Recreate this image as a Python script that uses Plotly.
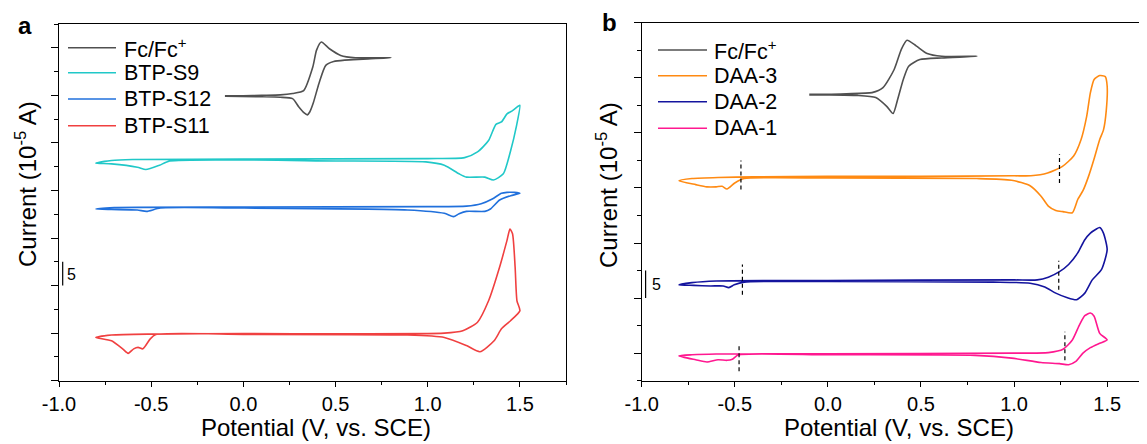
import plotly.graph_objects as go

# ---------------- Panel a data ----------------
fc_a_v = [-0.1, 0.0, 0.1, 0.2, 0.267, 0.327, 0.377, 0.397, 0.423, 0.467, 0.528, 0.608, 0.8,
          0.65, 0.55, 0.49, 0.447, 0.41, 0.38, 0.36, 0.347, 0.33, 0.30, 0.267, 0.2, 0.1, -0.1]
fc_a_i = [59.9, 59.9, 60.0, 60.1, 60.4, 61.0, 66.0, 69.5, 71.2, 69.8, 68.4, 67.9, 67.9,
          67.6, 67.4, 67.1, 66.3, 62.5, 58.5, 56.5, 55.9, 56.3, 57.6, 59.3, 59.6, 59.7, 59.8]

s9_v = [-0.8, -0.715, -0.6, 0.0, 1.0, 1.2, 1.27, 1.33, 1.37, 1.40, 1.43, 1.46, 1.49, 1.5,
        1.48, 1.45, 1.41, 1.356, 1.31, 1.21, 1.17, 1.09, 0.99, 0.5, -0.4, -0.455, -0.529, -0.575, -0.715, -0.8]
s9_i = [45.75, 46.3, 46.5, 46.6, 46.7, 46.9, 48.1, 50.5, 53.9, 54.4, 56.1, 56.8, 57.7, 57.9,
        53.3, 48.4, 43.5, 42.2, 42.8, 42.8, 43.5, 45.3, 46.0, 46.2, 46.2, 45.3, 44.4, 44.9, 45.6, 45.75]

s12_v = [-0.8, -0.7, 0.0, 1.0, 1.21, 1.29, 1.35, 1.40, 1.43, 1.47, 1.5,
         1.45, 1.39, 1.34, 1.31, 1.21, 1.17, 1.14, 1.09, 0.89, 0.0, -0.45, -0.525, -0.575, -0.715, -0.8]
s12_i = [36.1, 36.4, 36.5, 36.6, 36.7, 37.2, 38.2, 39.4, 39.6, 39.6, 39.4,
         38.9, 38.0, 36.1, 35.6, 35.6, 35.1, 34.5, 35.2, 35.9, 36.3, 36.3, 35.6, 35.9, 36.0, 36.1]

s11_v = [-0.8, -0.715, -0.5, 0.0, 1.09, 1.19, 1.27, 1.33, 1.39, 1.43, 1.446, 1.46, 1.474, 1.484, 1.5,
         1.449, 1.40, 1.36, 1.283, 1.21, 1.09, 0.89, 0.0, -0.475, -0.505, -0.545, -0.571, -0.595,
         -0.625, -0.655, -0.715, -0.8]
s11_i = [9.1, 9.6, 9.8, 9.9, 10.0, 10.5, 12.3, 16.8, 23.9, 29.5, 31.9, 30.9, 23.9, 16.8, 14.7,
         12.6, 10.9, 8.4, 6.1, 7.4, 9.1, 9.6, 9.75, 9.7, 8.8, 6.7, 7.0, 6.7,
         5.75, 6.7, 8.4, 9.1]

# ---------------- Panel b data ----------------
fc_b_v = [-0.1, 0.0, 0.1, 0.237, 0.296, 0.356, 0.395, 0.425, 0.474, 0.533, 0.612, 0.8,
          0.612, 0.494, 0.434, 0.405, 0.375, 0.35, 0.316, 0.257, 0.158, 0.0, -0.1]
fc_b_i = [47.0, 47.0, 47.1, 47.3, 48.2, 51.5, 55.2, 56.8, 55.8, 54.4, 53.9, 53.9,
          53.6, 53.3, 52.1, 49.7, 46.1, 43.5, 44.8, 46.4, 46.8, 46.9, 46.9]

d3_v = [-0.8, -0.73, -0.59, -0.4, 0.0, 0.5, 1.0, 1.09, 1.18, 1.26, 1.32, 1.36, 1.39, 1.41, 1.43,
        1.46, 1.49, 1.5,
        1.495, 1.48, 1.46, 1.43, 1.40, 1.37, 1.342, 1.313, 1.263, 1.224, 1.184, 1.145, 1.086, 0.987,
        0.8, 0.0, -0.45, -0.50, -0.542, -0.568, -0.6, -0.65, -0.71, -0.8]
d3_i = [31.3, 31.7, 31.9, 32.0, 32.1, 32.1, 32.2, 32.2, 32.7, 33.9, 35.8, 38.8, 43.0, 47.3, 49.7,
        50.4, 50.2, 48.5,
        44.0, 40.5, 38.8, 35.3, 32.1, 29.5, 27.9, 25.5, 25.7, 25.9, 26.7, 28.5, 30.4, 31.4,
        31.7, 31.8, 31.7, 30.9, 29.8, 30.3, 30.2, 30.2, 30.6, 31.3]

d2_v = [-0.8, -0.73, -0.6, 0.0, 1.0, 1.125, 1.184, 1.244, 1.293, 1.342, 1.38, 1.41, 1.44, 1.46, 1.48, 1.5,
        1.47, 1.42, 1.38, 1.336, 1.283, 1.224, 1.165, 1.086, 0.888, 0.0, -0.45, -0.503, -0.532,
        -0.562, -0.63, -0.72, -0.8]
d2_i = [12.4, 12.8, 13.1, 13.2, 13.3, 13.3, 13.8, 14.8, 16.1, 18.2, 20.6, 21.8, 22.5, 22.8, 21.8, 18.8,
        15.2, 13.3, 10.9, 9.7, 10.1, 10.9, 12.0, 12.7, 12.9, 13.0, 12.9, 12.4, 11.9,
        12.2, 12.2, 12.3, 12.4]

d1_v = [-0.8, -0.73, -0.6, 0.0, 1.0, 1.184, 1.263, 1.313, 1.352, 1.38, 1.41, 1.43, 1.46, 1.5,
        1.46, 1.41, 1.37, 1.332, 1.293, 1.244, 1.145, 0.987, 0.79, 0.0, -0.48, -0.513, -0.542,
        -0.59, -0.65, -0.71, -0.8]
d1_i = [-0.5, -0.3, -0.15, -0.1, 0.0, 0.1, 0.7, 2.4, 5.2, 6.8, 7.3, 6.7, 3.6, 2.4,
        1.8, 1.0, 0.0, -1.5, -2.1, -1.9, -1.7, -0.9, -0.4, -0.3, -0.3, -1.1, -1.3,
        -1.2, -1.6, -1.2, -0.5]

# onset markers (dashed) in panel b
onset_v = [-0.467, 1.244, -0.459, 1.24, -0.477, 1.273]
onset_lo = [29.7, 30.9, 10.6, 11.5, -3.3, -1.3]
onset_hi = [35.0, 36.1, 16.1, 16.8, 1.8, 3.9]

# scale bars (5 units)
bar_a_v, bar_a_i = [-0.98, -0.98], [20, 25]
bar_b_v, bar_b_i = [-0.979, -0.979], [10, 15]

x_tickvals = [-1.0, -0.5, 0.0, 0.5, 1.0, 1.5]
x_ticktext = ["-1.0", "-0.5", "0.0", "0.5", "1.0", "1.5"]

names_a = ["Fc/Fc<sup>+</sup>", "BTP-S9", "BTP-S12", "BTP-S11"]
names_b = ["Fc/Fc<sup>+</sup>", "DAA-3", "DAA-2", "DAA-1"]
colors_a = ["#505050", "#20C8C8", "#2070DC", "#F04040"]
colors_b = ["#505050", "#FF8A12", "#14149E", "#FF1890"]

FONT = "Arial, 'Liberation Sans', sans-serif"
# the page body has an 8px margin; the figure is sized to fit the window exactly
OFF = 8
W, H = 1147 - OFF, 444 - OFF


def px(x):
    return (x - OFF) / W


def py(y):
    return (H - (y - OFF)) / H


fig = go.Figure()


def add_cv(v, i, name, color, xa, ya):
    fig.add_trace(go.Scatter(x=v, y=i, mode="lines", name=name, showlegend=False,
                             line=dict(color=color, width=1.6, shape="spline", smoothing=0.6),
                             xaxis=xa, yaxis=ya))


for v, i, n, c in zip([fc_a_v, s9_v, s12_v, s11_v], [fc_a_i, s9_i, s12_i, s11_i], names_a, colors_a):
    add_cv(v, i, n, c, "x", "y")
for v, i, n, c in zip([fc_b_v, d3_v, d2_v, d1_v], [fc_b_i, d3_i, d2_i, d1_i], names_b, colors_b):
    add_cv(v, i, n, c, "x2", "y2")

# dashed onset lines
ox, oy = [], []
for v, lo, hi in zip(onset_v, onset_lo, onset_hi):
    ox += [v, v, None]
    oy += [lo, hi, None]
fig.add_trace(go.Scatter(x=ox, y=oy, mode="lines", showlegend=False,
                         line=dict(color="black", width=1.2, dash="4px,3px"),
                         xaxis="x2", yaxis="y2"))

# scale bars
fig.add_trace(go.Scatter(x=bar_a_v, y=bar_a_i, mode="lines", showlegend=False,
                         line=dict(color="black", width=1.2), xaxis="x", yaxis="y"))
fig.add_trace(go.Scatter(x=bar_b_v, y=bar_b_i, mode="lines", showlegend=False,
                         line=dict(color="black", width=1.2), xaxis="x2", yaxis="y2"))

xcommon = dict(showline=True, linecolor="black", linewidth=1.3, mirror=True,
               ticks="outside", ticklen=5, tickwidth=1.2, tickcolor="black",
               tickmode="array", tickvals=x_tickvals, ticktext=x_ticktext,
               tickfont=dict(family=FONT, size=20, color="black"),
               minor=dict(tickmode="linear", tick0=-1, dtick=0.25, ticks="outside",
                          ticklen=3, tickwidth=1.2, tickcolor="black"),
               showgrid=False, zeroline=False, automargin=False)
ycommon = dict(showline=True, linecolor="black", linewidth=1.3,
               ticks="outside", ticklen=7, tickwidth=1.2, tickcolor="black",
               tick0=0, dtick=10, showticklabels=False,
               minor=dict(dtick=5, ticks="outside", ticklen=4, tickwidth=1.2, tickcolor="black"),
               showgrid=False, zeroline=False, automargin=False)

fig.update_layout(
    template="none",
    width=W, height=H,
    margin=dict(l=0, r=0, t=0, b=0, pad=0, autoexpand=False),
    plot_bgcolor="white", paper_bgcolor="white",
    font=dict(family=FONT, color="black"),
    xaxis=dict(domain=[px(59), px(566)], range=[-1, 1.75], anchor="y", **xcommon),
    yaxis=dict(domain=[py(380.7), py(24)], range=[0, 75], anchor="x", mirror=True, **ycommon),
    xaxis2=dict(domain=[px(641.7), 1.0], range=[-1, 1.714], anchor="y2", **xcommon),
    yaxis2=dict(domain=[py(380.7), py(22.7)], range=[-5, 60], anchor="x2", mirror=False, **ycommon),
    showlegend=False,
)

ann = [
    dict(text="Potential (V, vs. SCE)", x=px(316), y=py(427), xref="paper", yref="paper",
         xanchor="center", yanchor="middle", showarrow=False, font=dict(size=24)),
    dict(text="Potential (V, vs. SCE)", x=px(899), y=py(427), xref="paper", yref="paper",
         xanchor="center", yanchor="middle", showarrow=False, font=dict(size=24)),
    dict(text="Current (10<sup>-5</sup> A)", x=px(26), y=py(184), xref="paper", yref="paper",
         xanchor="center", yanchor="middle", textangle=-90, showarrow=False, font=dict(size=24)),
    dict(text="Current (10<sup>-5</sup> A)", x=px(607), y=py(185), xref="paper", yref="paper",
         xanchor="center", yanchor="middle", textangle=-90, showarrow=False, font=dict(size=24)),
    dict(text="<b>a</b>", x=px(25), y=py(25), xref="paper", yref="paper",
         xanchor="center", yanchor="middle", showarrow=False, font=dict(size=24)),
    dict(text="<b>b</b>", x=px(609), y=py(22), xref="paper", yref="paper",
         xanchor="center", yanchor="middle", showarrow=False, font=dict(size=24)),
    dict(text="5", x=-0.965, y=22.4, xref="x", yref="y", xanchor="left", yanchor="middle",
         showarrow=False, font=dict(size=16)),
    dict(text="5", x=-0.957, y=12.4, xref="x2", yref="y2", xanchor="left", yanchor="middle",
         showarrow=False, font=dict(size=16)),
]

# legend keys (drawn as in the original: long sample lines, tight rows)
shapes = []
leg_rows_a = [47.7, 72.7, 99.0, 125.7]
leg_rows_b = [50.0, 75.7, 101.7, 128.3]
for rows, names, colors, x0, x1, xt in [(leg_rows_a, names_a, colors_a, 68, 116, 122),
                                       (leg_rows_b, names_b, colors_b, 658, 707, 712)]:
    for r, n, c in zip(rows, names, colors):
        shapes.append(dict(type="line", xref="paper", yref="paper",
                           x0=px(x0), x1=px(x1), y0=py(r), y1=py(r),
                           line=dict(color=c, width=1.6)))
        ann.append(dict(text=n, x=px(xt), y=py(r), xref="paper", yref="paper",
                        xanchor="left", yanchor="middle", showarrow=False,
                        font=dict(size=21.5, color="black")))

fig.update_layout(annotations=ann, shapes=shapes)

fig.write_html("out.html")
